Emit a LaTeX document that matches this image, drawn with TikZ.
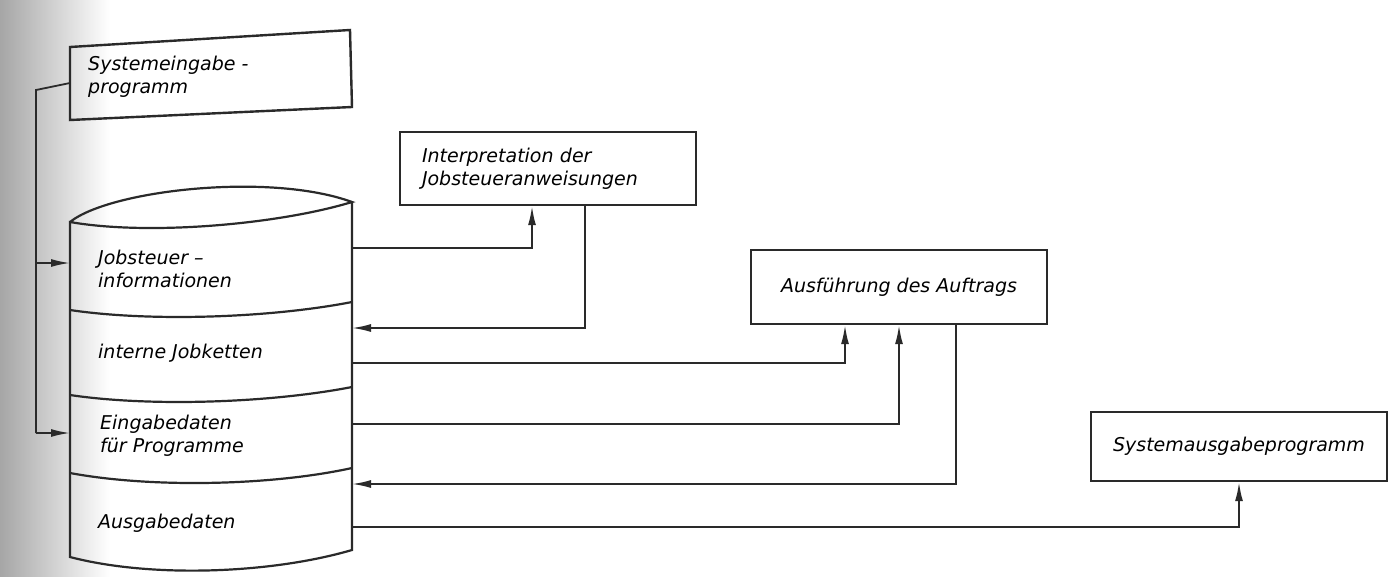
\documentclass[tikz,border=0pt]{standalone}
\usepackage{fontspec}
\setsansfont{DejaVu Sans}
\usetikzlibrary{arrows.meta,positioning}

\definecolor{ink}{HTML}{2A2A2A}

\tikzset{
		progbox/.style  = {shape=rectangle, draw=ink, line width=2.4pt,
				minimum width=296pt, inner sep=0pt,
				font=\sffamily\itshape\fontsize{19}{23}\selectfont},
		datatext/.style = {anchor=west, align=left, inner sep=0pt,
				font=\sffamily\itshape\fontsize{19}{23}\selectfont},
		wire/.style     = {draw=ink, line width=1.8pt},
		flow/.style     = {wire, -{Latex[length=19pt,width=8pt]}}
	}

\begin{document}
\begin{tikzpicture}[x=1pt, y=-1pt]
	\useasboundingbox (0,0) rectangle (1392,576);
	\fill[white] (0,0) rectangle (1392,576);
	\fill[left color=black!35, right color=white] (0,0) rectangle (110,576);

	% Systemeingabeprogramm
	\draw[wire, line width=2.4pt] (70,47) -- (350,30) -- (352,107) -- (70,120) -- cycle;
	\node[datatext] (sysin) at (88,77) {Systemeingabe -\\programm};
	\coordinate (sysinL) at (70,83);
	\coordinate (feed) at (36,90);

	% Datenbestand
	\draw[wire, line width=2.2pt] (70,222) .. controls (110,190) and (270,172) .. (352,202)
		.. controls (280,224) and (150,236) .. (70,222) -- (70,557)
		.. controls (150,578) and (270,574) .. (352,550) -- (352,202);
	\draw[wire, line width=2.2pt] (70,310) .. controls (150,322) and (270,318) .. (352,302);
	\draw[wire, line width=2.2pt] (70,395) .. controls (150,407) and (270,403) .. (352,387);
	\draw[wire, line width=2.2pt] (70,473) .. controls (150,488) and (270,486) .. (352,468);

	\node[datatext] (jsi) at (98,269) {Jobsteuer –\\informationen};
	\node[datatext] (ijk) at (98,353) {interne Jobketten};
	\node[datatext] (ein) at (100,436) {Eingabedaten\\für Programme};
	\node[datatext] (aus) at (98,523) {Ausgabedaten};

	\coordinate (jsiL) at (70,263);
	\coordinate (einL) at (70,433);
	\coordinate (jsiR) at (352,248);
	\coordinate (ijkIn) at (352,328);
	\coordinate (ijkR) at (352,363);
	\coordinate (einR) at (352,424);
	\coordinate (ausIn) at (352,484);
	\coordinate (ausR) at (352,527);

	% Programme
	\node[progbox, minimum height=73pt, text width=252pt, align=left] (interp) at (548,168.5)
		{Interpretation der\\Jobsteueranweisungen};
	\node[progbox, minimum height=74pt, align=center] (exec) at (899,287)
		{Ausführung des Auftrags};
	\node[progbox, minimum height=69pt, align=center] (sysout) at (1239,446.5)
		{Systemausgabeprogramm};

	% Verbindungen
	\draw[wire] (sysinL) -- (feed) -- (feed |- einL);
	\draw[flow] (feed |- jsiL) -- (jsiL);
	\draw[flow] (feed |- einL) -- (einL);
	\draw[flow] (jsiR) -| ([xshift=-16pt]interp.south);
	\draw[flow] ([xshift=37pt]interp.south) |- (ijkIn);
	\draw[flow] (ijkR) -| ([xshift=-54pt]exec.south);
	\draw[flow] (einR) -| (exec.south);
	\draw[flow] ([xshift=57pt]exec.south) |- (ausIn);
	\draw[flow] (ausR) -| (sysout.south);
\end{tikzpicture}
\end{document}
